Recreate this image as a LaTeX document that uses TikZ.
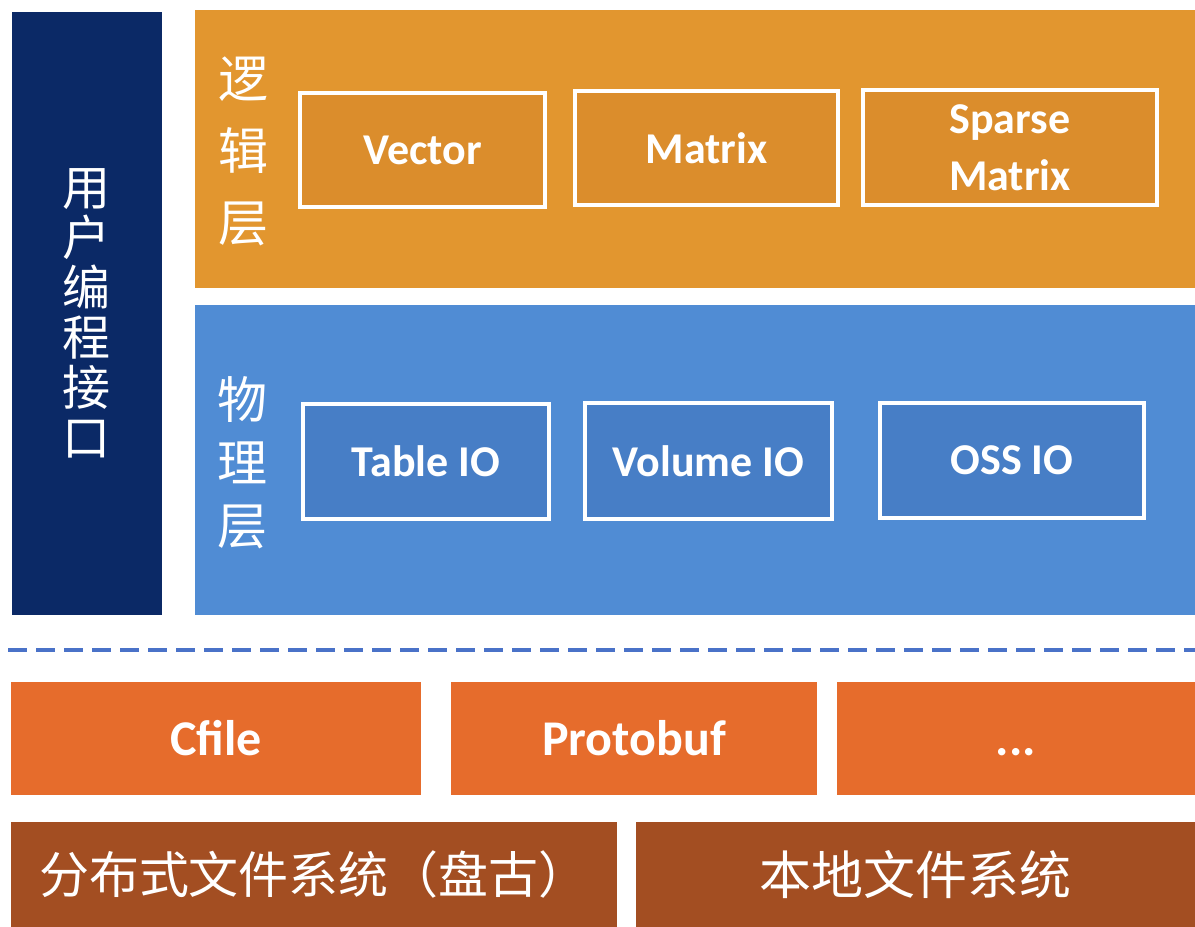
\documentclass[tikz,border=0pt]{standalone}
\usepackage{fontspec}
\setmainfont{Carlito}
\newfontfamily\cjk{Noto Sans CJK SC}
\definecolor{navy}{HTML}{0B2966}
\definecolor{logicorange}{HTML}{E2962F}
\definecolor{logicinner}{HTML}{DB8D2C}
\definecolor{physblue}{HTML}{508CD4}
\definecolor{physinner}{HTML}{477EC6}
\definecolor{fmtorange}{HTML}{E66C2C}
\definecolor{fsbrown}{HTML}{A34E22}
\definecolor{dashblue}{HTML}{4A72C8}
\tikzset{
  block/.style={rectangle, inner sep=0pt, outer sep=0pt, draw=none},
  innerbox/.style={rectangle, inner sep=0pt, outer sep=0pt, draw=white, line width=3.5pt, text=white,
    font=\bfseries\fontsize{44}{57}\selectfont, align=center},
  vlabel/.style={text=white, inner sep=0pt, align=center},
  fmtbox/.style={block, fill=fmtorange, text=white, font=\bfseries\fontsize{50}{60}\selectfont},
  fsbox/.style={block, fill=fsbrown, text=white, font=\cjk\fontsize{50}{60}\selectfont},
}
\begin{document}
\begin{tikzpicture}[x=1pt,y=-1pt]
\useasboundingbox (0,0) rectangle (1195,927);
\fill[white] (0,0) rectangle (1195,927);
% left API bar
\node[block, fill=navy, minimum width=150pt, minimum height=603pt] (api) at (87,313.5) {};
\node[vlabel, font=\cjk\fontsize{48}{50}\selectfont] (apilabel) at (86,313) {用\\户\\编\\程\\接\\口};
% logic layer
\node[block, fill=logicorange, minimum width=1000pt, minimum height=278pt] (logic) at (695,149) {};
\node[vlabel, font=\cjk\fontsize{50}{72}\selectfont] (logiclabel) at (243,151) {逻\\辑\\层};
\node[innerbox, fill=logicinner, minimum width=245pt, minimum height=114pt] (vector) at (422.5,150) {Vector};
\node[innerbox, fill=logicinner, minimum width=263pt, minimum height=114pt] (matrix) at (706.5,148) {Matrix};
\node[innerbox, fill=logicinner, minimum width=294pt, minimum height=115pt] (sparse) at (1010,147.5) {Sparse\\Matrix};
% physical layer
\node[block, fill=physblue, minimum width=1000pt, minimum height=310pt] (phys) at (695,460) {};
\node[vlabel, font=\cjk\fontsize{50}{63}\selectfont] (physlabel) at (242,463) {物\\理\\层};
\node[innerbox, fill=physinner, minimum width=246pt, minimum height=115pt] (table) at (426,461.5) {Table IO};
\node[innerbox, fill=physinner, minimum width=247pt, minimum height=116pt] (volume) at (708.5,461) {Volume IO};
\node[innerbox, fill=physinner, minimum width=264pt, minimum height=115pt] (oss) at (1012,460.5) {OSS IO};
% dashed separator
\coordinate (dashL) at (8,650);
\coordinate (dashR) at (1195,650);
\draw[dashblue, line width=4pt, dash pattern=on 19pt off 9pt] (dashL) -- (dashR);
% format row
\node[fmtbox, minimum width=410pt, minimum height=113pt] (cfile) at (216,738.5) {Cfile};
\node[fmtbox, minimum width=366pt, minimum height=113pt] (protobuf) at (634,738.5) {Protobuf};
\node[fmtbox, minimum width=358pt, minimum height=113pt] (etc) at (1016,738.5) {\vphantom{Cfile}...};
% file systems
\node[fsbox, minimum width=606pt, minimum height=105pt] (dfs) at (314,874.5) {分布式文件系统（盘古）};
\node[fsbox, minimum width=559pt, minimum height=105pt, font=\cjk\fontsize{52}{60}\selectfont] (localfs) at (915.5,874.5) {本地文件系统};
\end{tikzpicture}
\end{document}
